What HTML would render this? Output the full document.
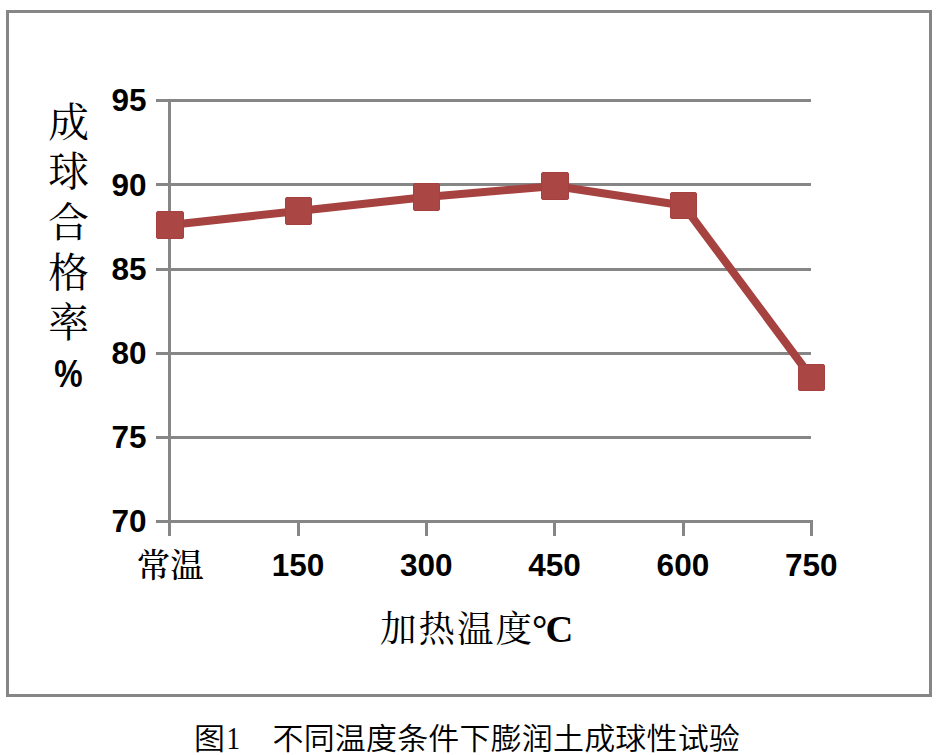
<!DOCTYPE html>
<html lang="zh">
<head>
<meta charset="utf-8">
<title>图1 不同温度条件下膨润土成球性试验</title>
<style>
html,body{margin:0;padding:0;background:#fff;}
body{width:938px;height:755px;overflow:hidden;position:relative;}
svg{position:absolute;left:0;top:0;display:block;}
.num{font-family:"Liberation Sans",sans-serif;font-weight:bold;font-size:31.5px;fill:#000;}
.cjkax{font-family:"Liberation Serif","Noto Serif CJK SC",serif;font-weight:500;font-size:33.5px;fill:#000;}
.ytitle{font-family:"Liberation Serif","Noto Serif CJK SC",serif;font-weight:400;font-size:40.8px;fill:#000;}
.xtitle{font-family:"Liberation Serif","Noto Serif CJK SC",serif;font-weight:400;font-size:36.5px;letter-spacing:2px;fill:#000;}
.cap{font-family:"Liberation Serif","Noto Sans CJK SC",sans-serif;font-weight:350;font-size:31px;fill:#000;}
</style>
</head>
<body>
<svg width="938" height="755" viewBox="0 0 938 755">
  <rect x="0" y="0" width="938" height="755" fill="#ffffff"/>
  <!-- chart frame -->
  <rect x="7.5" y="11.5" width="923" height="684" fill="none" stroke="#868686" stroke-width="3"/>
  <!-- gridlines -->
  <g stroke="#868686" stroke-width="3" fill="none" shape-rendering="crispEdges">
    <line x1="156" y1="100.5" x2="811" y2="100.5"/>
    <line x1="156" y1="184.5" x2="811" y2="184.5"/>
    <line x1="156" y1="269.5" x2="811" y2="269.5"/>
    <line x1="156" y1="353.5" x2="811" y2="353.5"/>
    <line x1="156" y1="437.5" x2="811" y2="437.5"/>
    <line x1="156" y1="521.5" x2="813" y2="521.5"/>
    <!-- y axis -->
    <line x1="169.5" y1="99" x2="169.5" y2="535.5"/>
    <!-- x ticks -->
    <line x1="298.5" y1="521" x2="298.5" y2="535.5"/>
    <line x1="426.5" y1="521" x2="426.5" y2="535.5"/>
    <line x1="554.5" y1="521" x2="554.5" y2="535.5"/>
    <line x1="683.5" y1="521" x2="683.5" y2="535.5"/>
    <line x1="811.5" y1="521" x2="811.5" y2="535.5"/>
  </g>
  <!-- series -->
  <polyline points="170,225 298.5,211 426.5,197 555,186 683.5,205.5 811.5,377.5" fill="none" stroke="#A64340" stroke-width="8" stroke-linejoin="round" stroke-linecap="butt"/>
  <g fill="#AA4644" stroke="#A5403E" stroke-width="1">
    <rect x="156.5" y="211.5" width="27" height="27" rx="1.5"/>
    <rect x="285.5" y="197.5" width="26" height="27" rx="1.5"/>
    <rect x="413.5" y="183.5" width="26" height="27" rx="1.5"/>
    <rect x="541.5" y="172.5" width="27" height="27" rx="1.5"/>
    <rect x="670.5" y="192.5" width="26" height="26" rx="1.5"/>
    <rect x="798.5" y="364.5" width="26" height="26" rx="1.5"/>
  </g>
  <!-- y labels -->
  <g class="num" text-anchor="end">
    <text x="146.5" y="111.3">95</text>
    <text x="146.5" y="195.5">90</text>
    <text x="146.5" y="279.7">85</text>
    <text x="146.5" y="363.9">80</text>
    <text x="146.5" y="448.1">75</text>
    <text x="146.5" y="532.3">70</text>
  </g>
  <!-- x labels -->
  <text class="cjkax" text-anchor="middle" x="170.3" y="576.6">常温</text>
  <g class="num" text-anchor="middle">
    <text x="298" y="575.8">150</text>
    <text x="426.3" y="575.8">300</text>
    <text x="554.6" y="575.8">450</text>
    <text x="682.9" y="575.8">600</text>
    <text x="811.2" y="575.8">750</text>
  </g>
  <!-- y title -->
  <g class="ytitle" text-anchor="middle">
    <text x="68.7" y="137.2">成</text>
    <text x="68.7" y="186.4">球</text>
    <text x="68.7" y="236.8">合</text>
    <text x="68.7" y="286.8">格</text>
    <text x="68.7" y="337.3">率</text>
  </g>
  <text class="num" style="font-size:37.5px" text-anchor="middle" transform="translate(68.5 386.8) scale(0.85 1.02)" x="0" y="0">%</text>
  <!-- x title -->
  <text class="xtitle" x="380" y="641.5">加热温度</text>
  <text y="642" style="font-family:'Liberation Serif',serif;font-weight:bold;font-size:38.5px;fill:#000"><tspan x="532">°</tspan><tspan x="545.5">C</tspan></text>
  <!-- caption -->
  <g transform="translate(0 749) scale(1 0.96)">
    <text class="cap" x="194" y="0">图</text>
    <text x="0" y="0" transform="translate(233.2 0) scale(0.82 1)" text-anchor="middle" style="font-family:'Liberation Serif',serif;font-weight:normal;font-size:33px;fill:#000">1</text>
    <text class="cap" x="272.5" y="0" style="letter-spacing:0.18px">不同温度条件下膨润土成球性试验</text>
  </g>
</svg>
</body>
</html>
